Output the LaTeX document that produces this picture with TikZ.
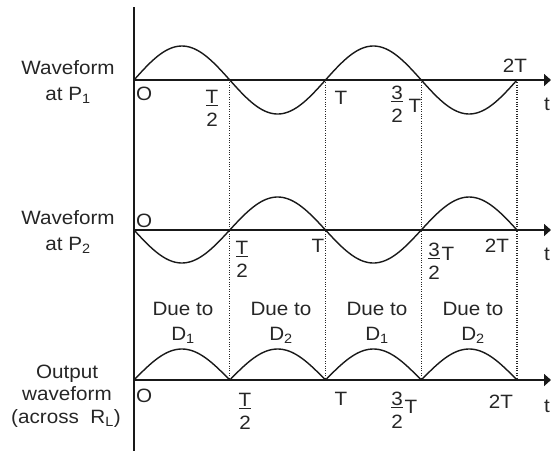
\documentclass[tikz,border=0pt]{standalone}
\usepackage{fontspec}
\setmainfont[FakeStretch=1.07]{Liberation Sans}
\usetikzlibrary{arrows.meta}
\newcommand\fracat[5]{%
  \node[lbl] (#1n) at (#2,#3-2) {#4};
  \node[lbl] (#1d) at (#2,#3+21.5) {#5};
  \draw[fbar] (#2-6,#3) -- (#2+6,#3);}
\begin{document}
\begin{tikzpicture}[x=1pt,y=-1pt,
  lbl/.style={font=\fontsize{19.3}{22}\selectfont, inner sep=0pt, anchor=base, text=black!85},
  axis/.style={line width=1.7pt, black!90},
  axarrow/.style={axis, -{Triangle[length=7pt,width=12pt]}},
  wave/.style={line width=1.4pt, black!90},
  guide/.style={line width=1.1pt, dash pattern=on 1pt off 1.4pt, black!85},
  fbar/.style={line width=0.8pt, black!85}]
\useasboundingbox (0,0) rectangle (551,451);

% vertical axis
\coordinate (vtop) at (134,7);
\coordinate (vbot) at (134,451);
\draw[axis] (vtop) -- (vbot);

% horizontal axes
\coordinate (a1s) at (134,80);  \coordinate (a1e) at (551,80);
\coordinate (a2s) at (134,230); \coordinate (a2e) at (551,230);
\coordinate (a3s) at (134,380); \coordinate (a3e) at (551,380);
\draw[axarrow] (a1s) -- (a1e);
\draw[axarrow] (a2s) -- (a2e);
\draw[axarrow] (a3s) -- (a3e);

% dotted guides
\foreach \i/\gx in {1/229.75,2/325.5,3/421.25,4/517}{
  \coordinate (g\i t) at (\gx,80);
  \coordinate (g\i b) at (\gx,380);
  \draw[guide] (g\i t) -- (g\i b);
}

% waveforms
\draw[wave] plot[domain=0:383, samples=160, smooth] ({134+\x}, {80-34*sin(1.879896*\x)});
\draw[wave] plot[domain=0:383, samples=160, smooth] ({134+\x}, {230+33*sin(1.879896*\x)});
\draw[wave] plot[domain=0:383, samples=240] ({134+\x}, {380-31*abs(sin(1.879896*\x))});

% left labels
\node[lbl] (l1a) at (68,74) {Waveform};
\node[lbl] (l1b) at (68,100) {at P\textsubscript{1}};
\node[lbl] (l2a) at (68,224) {Waveform};
\node[lbl] (l2b) at (68,250) {at P\textsubscript{2}};
\node[lbl] (l3a) at (67,378) {Output};
\node[lbl] (l3b) at (67,400) {waveform};
\node[lbl] (l3c) at (66,423) {(across\ \ R\textsubscript{L})};

% row 1 labels
\node[lbl, anchor=base west] (o1) at (136,100) {O};
\fracat{h1}{212}{105}{T}{2}
\node[lbl] (t1) at (341,104) {T};
\fracat{q1}{397}{101}{3}{2}
\node[lbl] (q1t) at (415,112) {T};
\node[lbl] (tt1) at (515,72) {2T};
\node[lbl] (x1) at (547,110) {t};

% row 2 labels
\node[lbl, anchor=base west] (o2) at (136,227) {O};
\fracat{h2}{242}{256}{T}{2}
\node[lbl] (t2) at (318,252) {T};
\fracat{q2}{434}{258}{3}{2}
\node[lbl] (q2t) at (448,260) {T};
\node[lbl] (tt2) at (497,252) {2T};
\node[lbl] (x2) at (547,260) {t};

% due-to labels
\node[lbl] (d1a) at (183,315) {Due to};
\node[lbl] (d1b) at (183,340) {D\textsubscript{1}};
\node[lbl] (d2a) at (281,315) {Due to};
\node[lbl] (d2b) at (281,340) {D\textsubscript{2}};
\node[lbl] (d3a) at (377,315) {Due to};
\node[lbl] (d3b) at (377,340) {D\textsubscript{1}};
\node[lbl] (d4a) at (473,315) {Due to};
\node[lbl] (d4b) at (473,340) {D\textsubscript{2}};

% row 3 labels
\node[lbl, anchor=base west] (o3) at (136,402) {O};
\fracat{h3}{245}{408}{T}{2}
\node[lbl] (t3) at (341,405) {T};
\fracat{q3}{397}{407}{3}{2}
\node[lbl] (q3t) at (411,413) {T};
\node[lbl] (tt3) at (501,408) {2T};
\node[lbl] (x3) at (547,412) {t};
\end{tikzpicture}
\end{document}
